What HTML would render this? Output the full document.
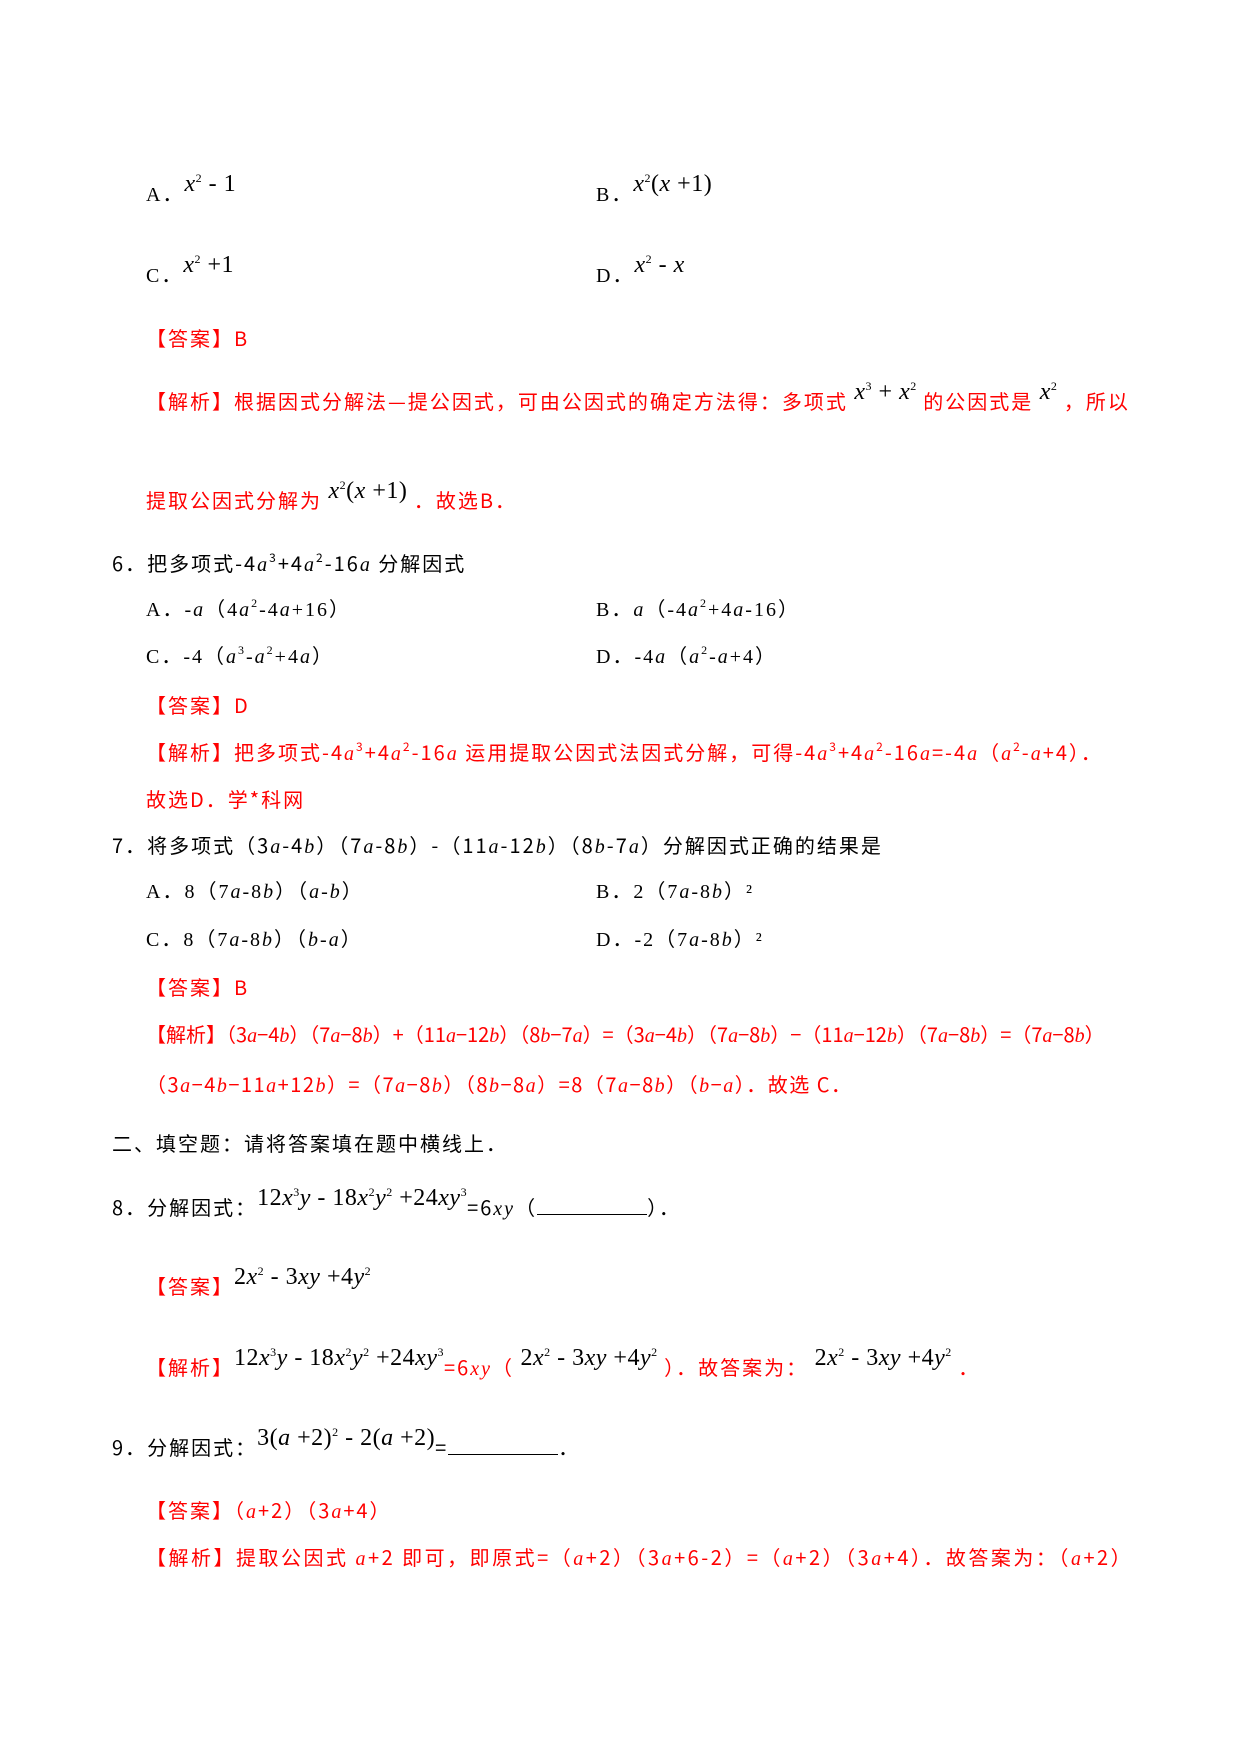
<!DOCTYPE html>
<html><head><meta charset="utf-8"><style>
body{margin:0;width:1240px;height:1754px;background:#fff;position:relative;overflow:hidden;font-family:"Liberation Serif","Noto Sans CJK SC",serif;font-size:20px;color:#000}
.l{position:absolute;white-space:nowrap;line-height:28px;letter-spacing:2px}
.r{color:#f00}
.m{font-family:"Liberation Serif",serif;font-size:24px;letter-spacing:0.5px}
i{font-family:"Liberation Serif",serif}
sup{font-size:12px;vertical-align:9px;line-height:0}
.up{position:relative;top:-10px}
.cj{font-family:"Noto Sans CJK SC",sans-serif}
</style></head><body>
<div class="l" style="left:146px;top:180px">A．<span class="m up"><i>x</i><sup>2</sup> - 1</span></div>
<div class="l" style="left:596px;top:180px">B．<span class="m up"><i>x</i><sup>2</sup>(<i>x</i> +1)</span></div>
<div class="l" style="left:146px;top:261px">C．<span class="m up"><i>x</i><sup>2</sup> +1</span></div>
<div class="l" style="left:596px;top:261px">D．<span class="m up"><i>x</i><sup>2</sup> - <i>x</i></span></div>
<div class="l r cj" style="left:146px;top:324px">【答案】B</div>
<div class="l r cj" style="left:146px;top:387px">【解析】根据因式分解法—提公因式，可由公因式的确定方法得：多项式<span class="m up" style="color:#000"> <i>x</i><sup>3</sup> + <i>x</i><sup>2</sup> </span>的公因式是<span class="m up" style="color:#000"> <i>x</i><sup>2</sup> </span>，所以</div>
<div class="l r cj" style="left:146px;top:486px">提取公因式分解为<span class="m up" style="color:#000"> <i>x</i><sup>2</sup>(<i>x</i> +1) </span>．故选B．</div>
<div class="l cj" style="left:112px;top:549px">6．把多项式-4<i>a</i><sup>3</sup>+4<i>a</i><sup>2</sup>-16<i>a</i> 分解因式</div>
<div class="l" style="left:146px;top:596px">A．-<i>a</i>（4<i>a</i><sup>2</sup>-4<i>a</i>+16）</div>
<div class="l" style="left:596px;top:596px">B．<i>a</i>（-4<i>a</i><sup>2</sup>+4<i>a</i>-16）</div>
<div class="l" style="left:146px;top:643px">C．-4（<i>a</i><sup>3</sup>-<i>a</i><sup>2</sup>+4<i>a</i>）</div>
<div class="l" style="left:596px;top:643px">D．-4<i>a</i>（<i>a</i><sup>2</sup>-<i>a</i>+4）</div>
<div class="l r cj" style="left:146px;top:691px">【答案】D</div>
<div class="l r cj" style="left:146px;top:738px">【解析】把多项式-4<i>a</i><sup>3</sup>+4<i>a</i><sup>2</sup>-16<i>a</i> 运用提取公因式法因式分解，可得-4<i>a</i><sup>3</sup>+4<i>a</i><sup>2</sup>-16<i>a</i>=-4<i>a</i>（<i>a</i><sup>2</sup>-<i>a</i>+4）．</div>
<div class="l r cj" style="left:146px;top:785px">故选D．学*科网</div>
<div class="l cj" style="left:112px;top:831px">7．将多项式（3<i>a</i>-4<i>b</i>）（7<i>a</i>-8<i>b</i>）-（11<i>a</i>-12<i>b</i>）（8<i>b</i>-7<i>a</i>）分解因式正确的结果是</div>
<div class="l" style="left:146px;top:878px">A．8（7<i>a</i>-8<i>b</i>）（<i>a</i>-<i>b</i>）</div>
<div class="l" style="left:596px;top:878px">B．2（7<i>a</i>-8<i>b</i>）²</div>
<div class="l" style="left:146px;top:926px">C．8（7<i>a</i>-8<i>b</i>）（<i>b</i>-<i>a</i>）</div>
<div class="l" style="left:596px;top:926px">D．-2（7<i>a</i>-8<i>b</i>）²</div>
<div class="l r cj" style="left:146px;top:973px">【答案】B</div>
<div class="l r cj" style="left:146px;top:1020px;letter-spacing:0px">【解析】（3<i>a</i>−4<i>b</i>）（7<i>a</i>−8<i>b</i>）+（11<i>a</i>−12<i>b</i>）（8<i>b</i>−7<i>a</i>）=（3<i>a</i>−4<i>b</i>）（7<i>a</i>−8<i>b</i>）−（11<i>a</i>−12<i>b</i>）（7<i>a</i>−8<i>b</i>）=（7<i>a</i>−8<i>b</i>）</div>
<div class="l r cj" style="left:146px;top:1070px;letter-spacing:1.5px">（3<i>a</i>−4<i>b</i>−11<i>a</i>+12<i>b</i>）=（7<i>a</i>−8<i>b</i>）（8<i>b</i>−8<i>a</i>）=8（7<i>a</i>−8<i>b</i>）（<i>b</i>−<i>a</i>）．故选 C．</div>
<div class="l cj" style="left:112px;top:1129px">二、填空题：请将答案填在题中横线上．</div>
<div class="l cj" style="left:112px;top:1193px">8．分解因式：<span class="m up">12<i>x</i><sup>3</sup><i>y</i> - 18<i>x</i><sup>2</sup><i>y</i><sup>2</sup> +24<i>xy</i><sup>3</sup></span>=6<i>xy</i>（<span style="display:inline-block;width:110px;border-bottom:1px solid #000;height:18px"></span>）．</div>
<div class="l r cj" style="left:146px;top:1272px">【答案】<span class="m up" style="color:#000">2<i>x</i><sup>2</sup> - 3<i>xy</i> +4<i>y</i><sup>2</sup></span></div>
<div class="l r cj" style="left:146px;top:1353px">【解析】<span class="m up" style="color:#000">12<i>x</i><sup>3</sup><i>y</i> - 18<i>x</i><sup>2</sup><i>y</i><sup>2</sup> +24<i>xy</i><sup>3</sup></span>=6<i>xy</i>（<span class="m up" style="color:#000"> 2<i>x</i><sup>2</sup> - 3<i>xy</i> +4<i>y</i><sup>2</sup> </span>）．故答案为：<span class="m up" style="color:#000"> 2<i>x</i><sup>2</sup> - 3<i>xy</i> +4<i>y</i><sup>2</sup> </span>．</div>
<div class="l cj" style="left:112px;top:1433px">9．分解因式：<span class="m up">3(<i>a</i> +2)<sup>2</sup> - 2(<i>a</i> +2)</span>=<span style="display:inline-block;width:110px;border-bottom:1px solid #000;height:18px"></span>．</div>
<div class="l r cj" style="left:146px;top:1496px">【答案】（<i>a</i>+2）（3<i>a</i>+4）</div>
<div class="l r cj" style="left:146px;top:1543px;letter-spacing:2.5px">【解析】提取公因式 <i>a</i>+2 即可，即原式=（<i>a</i>+2）（3<i>a</i>+6-2）=（<i>a</i>+2）（3<i>a</i>+4）．故答案为：（<i>a</i>+2）</div>
</body></html>
